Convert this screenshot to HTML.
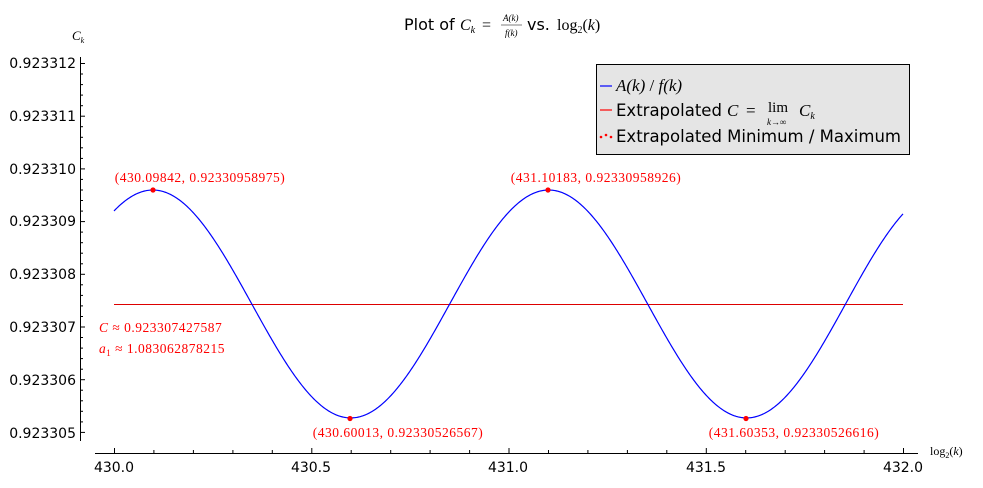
<!DOCTYPE html>
<html><head><meta charset="utf-8"><style>
body{margin:0;background:#fff}
</style></head><body>
<svg width="983" height="483" viewBox="0 0 983 483" xmlns="http://www.w3.org/2000/svg" font-family="DejaVu Sans, sans-serif">
<rect width="983" height="483" fill="#fff"/>
<g stroke="#000" stroke-width="1" fill="none">
<line x1="80.5" y1="57" x2="80.5" y2="441"/>
<line x1="95" y1="453.5" x2="918" y2="453.5"/>
</g>
<g id="ticks" stroke="#000" stroke-width="1"></g>
<g font-size="14" fill="#000" text-anchor="end" font-family="DejaVu Sans, sans-serif">
<text x="76" y="68">0.923312</text>
<text x="76" y="121">0.923311</text>
<text x="76" y="174">0.923310</text>
<text x="76" y="226">0.923309</text>
<text x="76" y="279">0.923308</text>
<text x="76" y="332">0.923307</text>
<text x="76" y="385">0.923306</text>
<text x="76" y="438">0.923305</text>
</g>
<g font-size="14" fill="#000" text-anchor="middle" font-family="DejaVu Sans, sans-serif">
<text x="114" y="472">430.0</text>
<text x="311" y="472">430.5</text>
<text x="508" y="472">431.0</text>
<text x="706" y="472">431.5</text>
<text x="903" y="472">432.0</text>
</g>
<g font-family="Liberation Serif, serif">
<text x="72" y="40" font-size="13" font-style="italic">C<tspan font-size="8" dy="3">k</tspan></text>
<text x="930" y="455" font-size="12">log<tspan font-size="8" dy="3">2</tspan><tspan dy="-3">(</tspan><tspan font-style="italic">k</tspan>)</text>
</g>
<text x="404" y="30" font-size="16" font-family="DejaVu Sans, sans-serif">Plot of</text>
<text x="460" y="30" font-size="16" font-family="Liberation Serif, serif" font-style="italic">C<tspan font-size="10" dy="3">k</tspan></text>
<text x="482" y="30" font-size="16" font-family="Liberation Serif, serif">=</text>
<text x="503" y="21" font-size="9" font-family="Liberation Serif, serif" font-style="italic">A(k)</text>
<line x1="501" y1="25" x2="522" y2="25" stroke="#000" stroke-width="0.6"/>
<text x="505" y="36" font-size="9" font-family="Liberation Serif, serif" font-style="italic">f(k)</text>
<text x="527" y="30" font-size="16" font-family="DejaVu Sans, sans-serif">vs.</text>
<text x="557" y="30" font-size="16" font-family="Liberation Serif, serif">log<tspan font-size="10" dy="3">2</tspan><tspan dy="-3">(</tspan><tspan font-style="italic">k</tspan>)</text>

<line x1="114" y1="304.5" x2="903" y2="304.5" stroke="#d00" stroke-width="1"/>
<path id="curve" fill="none" stroke="#00f" stroke-width="1.2"/>
<g fill="#f00">
<circle cx="153" cy="190" r="2.6"/><circle cx="548" cy="190" r="2.6"/>
<circle cx="350" cy="418.5" r="2.6"/><circle cx="746" cy="418.5" r="2.6"/>
</g>
<g font-size="13.5" fill="#f00" font-family="Liberation Serif, serif" text-anchor="middle" letter-spacing="0.5">
<text x="200" y="182">(430.09842, 0.92330958975)</text>
<text x="596" y="182">(431.10183, 0.92330958926)</text>
<text x="398" y="437">(430.60013, 0.92330526567)</text>
<text x="794" y="437">(431.60353, 0.92330526616)</text>
</g>
<g font-size="13.5" fill="#f00" font-family="Liberation Serif, serif" letter-spacing="0.5">
<text x="99" y="332"><tspan font-style="italic">C</tspan>  ≈  0.923307427587</text>
<text x="99" y="353"><tspan font-style="italic">a</tspan><tspan font-size="9" dy="3">1</tspan><tspan dy="-3">  ≈  1.083062878215</tspan></text>
</g>
<rect x="596.5" y="64.5" width="313" height="90" fill="#e5e5e5" stroke="#000" stroke-width="1"/>
<line x1="600" y1="86" x2="612" y2="86" stroke="#00f" stroke-width="1.2"/>
<line x1="600" y1="110" x2="612" y2="110" stroke="#f00" stroke-width="1.2"/>
<circle cx="601" cy="137" r="1.3" fill="#f00"/><circle cx="606" cy="135" r="1.3" fill="#f00"/><circle cx="611" cy="137" r="1.3" fill="#f00"/>
<text x="616" y="91" font-size="17" font-family="Liberation Serif, serif" font-style="italic">A(k)  <tspan font-style="normal">/</tspan>  f(k)</text>
<text x="616" y="116" font-size="16.5" font-family="DejaVu Sans, sans-serif">Extrapolated</text>
<text x="727" y="116" font-size="17" font-family="Liberation Serif, serif" font-style="italic">C</text>
<text x="746" y="116" font-size="17" font-family="Liberation Serif, serif">=</text>
<text x="768" y="112" font-size="15" font-family="Liberation Serif, serif">lim</text>
<text x="767" y="125" font-size="9" font-family="Liberation Serif, serif" font-style="italic">k→∞</text>
<text x="799" y="116" font-size="17" font-family="Liberation Serif, serif" font-style="italic">C<tspan font-size="10" dy="3">k</tspan></text>
<text x="616" y="142" font-size="16.5" font-family="DejaVu Sans, sans-serif">Extrapolated Minimum / Maximum</text>
</svg>
<script>
var X=function(v){return 114+(v-430)*394.5},Y=function(v){return 63+(0.923312-v)*52.7e6};
var d="";for(var i=0;i<=800;i++){var x=430+i/400;var c=0.9233074276+2.16204e-6*Math.cos(2*Math.PI*(x-430.09842)/1.0034);d+=(i?"L":"M")+X(x).toFixed(2)+" "+Y(c).toFixed(2);}
document.getElementById("curve").setAttribute("d",d);
var t="";for(var k=0;k<=37;k++){var y=63+k*52.7/5;if(y>441)break;var L=(k%5==0)?5:3;t+='<line x1="80" y1="'+(y+.5).toFixed(1)+'" x2="'+(80+L)+'" y2="'+(y+.5).toFixed(1)+'"/>';}
for(var k=-1;k<=21;k++){var x=114+k*39.45;if(x<95||x>918)continue;var L=(k%5==0)?5:3;t+='<line x1="'+(x+.5).toFixed(1)+'" y1="453" x2="'+(x+.5).toFixed(1)+'" y2="'+(453-L)+'"/>';}
document.getElementById("ticks").innerHTML=t;
</script>
</body></html>
